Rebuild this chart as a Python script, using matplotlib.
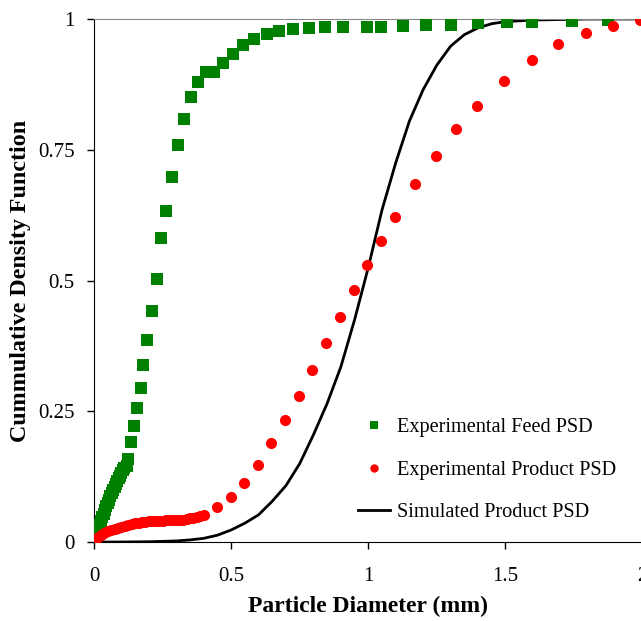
import matplotlib
matplotlib.use('Agg')
import matplotlib.pyplot as plt

plt.rcParams['font.family'] = ['Liberation Serif', 'DejaVu Serif']

# Experimental feed PSD (green squares)
feed_x = [0.0, 0.005, 0.01, 0.015, 0.02, 0.025, 0.03, 0.035, 0.04, 0.045, 0.05,
          0.055, 0.06, 0.065, 0.07, 0.075, 0.08, 0.085, 0.09, 0.095, 0.10, 0.105,
          0.11, 0.119, 0.125, 0.136, 0.147, 0.158, 0.170, 0.180, 0.194, 0.210,
          0.231, 0.246, 0.264, 0.284, 0.305, 0.328, 0.353, 0.378, 0.407, 0.439,
          0.472, 0.507, 0.545, 0.585, 0.630, 0.676, 0.727, 0.783, 0.841, 0.907,
          0.997, 1.047, 1.128, 1.211, 1.303, 1.401, 1.507, 1.595, 1.743, 1.873]
feed_y = [0.0, 0.009, 0.017, 0.025, 0.033, 0.040, 0.047, 0.054, 0.061, 0.068, 0.075,
          0.081, 0.087, 0.093, 0.099, 0.105, 0.111, 0.117, 0.122, 0.127, 0.132, 0.137,
          0.142, 0.146, 0.159, 0.191, 0.222, 0.256, 0.295, 0.338, 0.386, 0.441,
          0.502, 0.581, 0.632, 0.698, 0.760, 0.809, 0.850, 0.880, 0.898, 0.899,
          0.916, 0.934, 0.950, 0.962, 0.971, 0.978, 0.981, 0.983, 0.984, 0.984,
          0.984, 0.985, 0.987, 0.988, 0.989, 0.992, 0.994, 0.995, 0.996, 0.998]

# Experimental product PSD (red circles)
prod_x = [0, 0.0125, 0.025, 0.0375, 0.05, 0.0625, 0.075, 0.0875, 0.1, 0.1125,
          0.125, 0.1375, 0.15, 0.1625, 0.175, 0.1875, 0.2, 0.2125, 0.225, 0.2375,
          0.25, 0.2625, 0.275, 0.2875, 0.3, 0.3125, 0.325, 0.3375, 0.35, 0.3625,
          0.375, 0.3875, 0.4,
          0.448, 0.498, 0.547, 0.597, 0.646, 0.696, 0.748, 0.796, 0.847, 0.896,
          0.948, 0.997, 1.048, 1.096, 1.171, 1.245, 1.321, 1.395, 1.495, 1.595,
          1.693, 1.793, 1.893, 1.99]
prod_y = [0.0, 0.008, 0.014, 0.018, 0.021, 0.023, 0.025, 0.027, 0.029, 0.031,
          0.033, 0.035, 0.036, 0.037, 0.038, 0.039, 0.040, 0.040, 0.041, 0.041,
          0.041, 0.042, 0.042, 0.042, 0.043, 0.043, 0.043, 0.044, 0.045, 0.046,
          0.047, 0.049, 0.051,
          0.066, 0.086, 0.113, 0.147, 0.189, 0.233, 0.280, 0.329, 0.381, 0.431,
          0.481, 0.529, 0.576, 0.621, 0.684, 0.739, 0.790, 0.833, 0.882, 0.922,
          0.952, 0.973, 0.987, 0.999]

# Simulated product PSD (black line)
sim_x = [0, 0.1, 0.2, 0.3, 0.35, 0.4, 0.45, 0.5, 0.55, 0.6, 0.65, 0.7, 0.75,
         0.8, 0.85, 0.9, 0.95, 1.0, 1.05, 1.1, 1.15, 1.2, 1.25, 1.3, 1.35, 1.4,
         1.45, 1.5, 1.6, 1.7, 1.8, 1.9, 2.0]
sim_y = [0, 0, 0.0005, 0.002, 0.004, 0.007, 0.013, 0.023, 0.036, 0.052, 0.078,
         0.108, 0.150, 0.205, 0.265, 0.335, 0.425, 0.525, 0.635, 0.725, 0.805,
         0.865, 0.912, 0.948, 0.970, 0.983, 0.991, 0.995, 0.998, 0.999, 1.0, 1.0, 1.0]

xticks = [0, 0.5, 1, 1.5, 2]
xtick_labels = ['0', '0.5', '1', '1.5', '2']
yticks = [0, 0.25, 0.5, 0.75, 1]
ytick_labels = ['0', '0.25', '0.5', '0.75', '1']

fig = plt.figure(figsize=(6.41, 6.21), dpi=100)
ax = fig.add_axes([94 / 641, 79 / 621, 548.6 / 641, 523 / 621])

line, = ax.plot(sim_x, sim_y, color='black', lw=2.0, zorder=2,
                label='Simulated Product PSD')
feed, = ax.plot(feed_x, feed_y, 's', color='#008000', ms=8, mew=0,
                zorder=3, label='Experimental Feed PSD')
prod, = ax.plot(prod_x, prod_y, 'o', color='#ff0000', ms=8, mew=0,
                zorder=4, label='Experimental Product PSD')

ax.set_xlim(0, 2)
ax.set_ylim(0, 1)
ax.set_xticks(xticks)
ax.set_xticklabels(xtick_labels)
ax.set_yticks(yticks)
ax.set_yticklabels(ytick_labels)
ax.tick_params(direction='out', length=5, width=1, labelsize=15)
ax.tick_params(axis='x', pad=13)
ax.tick_params(axis='y', pad=9)
for lab in ax.get_xticklabels() + ax.get_yticklabels():
    lab.set_clip_on(False)

ax.spines['top'].set_color('#888888')
ax.spines['right'].set_visible(False)

ax.set_xlabel('Particle Diameter (mm)', fontsize=17, fontweight='bold', labelpad=7)
ax.set_ylabel('Cummulative Density Function', fontsize=17.3, fontweight='bold', labelpad=5)

leg = ax.legend(handles=[feed, prod, line], loc='upper left',
                bbox_to_anchor=(358 / 641, 1 - 418 / 621),
                bbox_transform=fig.transFigure, frameon=False, fontsize=14.6,
                borderpad=0, borderaxespad=0, labelspacing=1.15,
                handlelength=1.6, handletextpad=0.3, markerscale=0.75)

fig.savefig('out.png', dpi=100)
